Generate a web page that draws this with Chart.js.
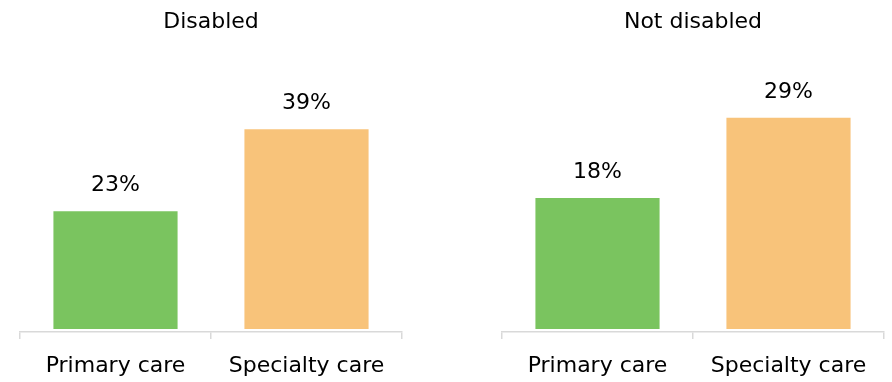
<!DOCTYPE html>
<html>
<head>
<meta charset="utf-8">
<script src="https://cdn.jsdelivr.net/npm/chart.js@4.4.1/dist/chart.umd.min.js"></script>
<style>
  html, body { margin: 0; padding: 0; background: #fff; }
  #wrap { display: flex; width: 892px; height: 382px; }
  .panel { position: relative; width: 446px; height: 382px; }
</style>
</head>
<body>
<div id="wrap">
  <div class="panel"><canvas id="left"></canvas></div>
  <div class="panel"><canvas id="right"></canvas></div>
</div>
<script>
// Share of people, by care type
const categories = ['Primary care', 'Specialty care'];
const panelTitles = ['Disabled', 'Not disabled'];
const disabledValues = [23, 39];
const notDisabledValues = [18, 29];

const barColors = ['#7AC45F', '#F8C37A'];
const axisColor = '#D9D9D9';
const FONT = 'DejaVu Sans';

// Percent labels above each bar
const valueLabels = {
  id: 'valueLabels',
  afterDatasetsDraw(chart) {
    const ctx = chart.ctx;
    const meta = chart.getDatasetMeta(0);
    const data = chart.data.datasets[0].data;
    ctx.save();
    ctx.font = `22px "${FONT}"`;
    ctx.fillStyle = '#000';
    ctx.textAlign = 'center';
    ctx.textBaseline = 'alphabetic';
    meta.data.forEach((bar, i) => {
      ctx.fillText(data[i] + '%', bar.x, bar.y - 20);
    });
    ctx.restore();
  }
};

function makePanel(canvasId, title, values, yMin, yMax, padLeft, padRight) {
  return new Chart(document.getElementById(canvasId), {
    type: 'bar',
    data: {
      labels: categories,
      datasets: [{
        data: values,
        backgroundColor: barColors,
        borderWidth: 0,
        categoryPercentage: 1,
        barPercentage: 0.65
      }]
    },
    options: {
      responsive: true,
      maintainAspectRatio: false,
      animation: false,
      layout: { padding: { left: padLeft, right: padRight, top: 0, bottom: 0 } },
      plugins: {
        legend: { display: false },
        tooltip: { enabled: false },
        title: {
          display: true,
          text: title,
          color: '#000',
          font: { family: FONT, size: 22, weight: 'normal', lineHeight: 1.2 },
          padding: { top: 9, bottom: 9.6 }
        }
      },
      scales: {
        x: {
          grid: {
            display: true,
            offset: true,
            drawOnChartArea: false,
            drawTicks: true,
            tickLength: 7,
            color: axisColor,
            lineWidth: 1.5
          },
          border: { display: true, color: axisColor, width: 1.5 },
          ticks: {
            color: '#000',
            padding: 14,
            font: { family: FONT, size: 22 }
          },
          afterFit(scale) { scale.height = 50; }
        },
        y: {
          display: false,
          min: yMin,
          max: yMax
        }
      }
    },
    plugins: [valueLabels]
  });
}

makePanel('left', panelTitles[0], disabledValues, -0.586, 55.47, 20, 44);
makePanel('right', panelTitles[1], notDisabledValues, -0.412, 39.0, 56, 8);
</script>
</body>
</html>
